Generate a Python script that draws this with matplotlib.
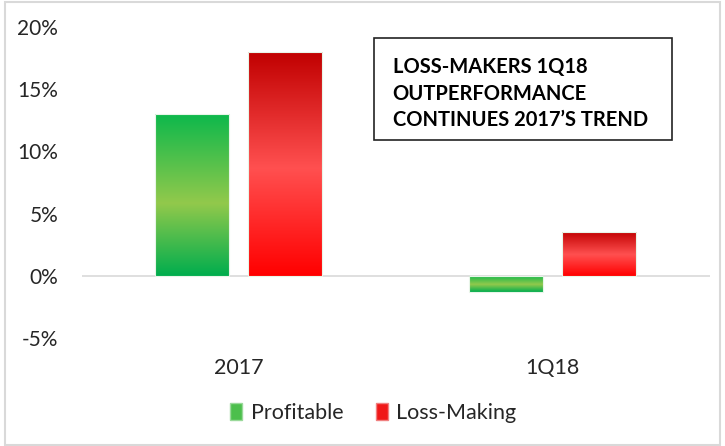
import numpy as np
import matplotlib
matplotlib.use("Agg")
import matplotlib.pyplot as plt
from matplotlib.colors import LinearSegmentedColormap
from matplotlib.patches import Patch, Rectangle

categories = ["2017", "1Q18"]
profitable = [13.0, -1.3]
loss_making = [18.0, 3.55]
series_names = ["Profitable", "Loss-Making"]
yticks = [-5, 0, 5, 10, 15, 20]
box_text = "LOSS-MAKERS 1Q18\nOUTPERFORMANCE\nCONTINUES 2017\u2019S TREND"

plt.rcParams["font.family"] = ["Lato", "DejaVu Sans"]

green = LinearSegmentedColormap.from_list(
    "g", [(0, "#0db84c"), (0.55, "#92c94b"), (1, "#00ad4e")])
red = LinearSegmentedColormap.from_list(
    "r", [(0, "#c00000"), (0.52, "#ff5050"), (1, "#ff0000")])

fig = plt.figure(figsize=(7.25, 4.46), dpi=100)
ax = fig.add_axes([0.113, 0.242, 0.866, 0.698])

x = np.arange(len(categories))
w = 0.236
off = 0.148

def grad_bars(xs, vals, cmap):
    bars = ax.bar(xs, vals, w, color="none", edgecolor="#e8f5e8", lw=0.8, zorder=3)
    grad = np.linspace(0, 1, 256).reshape(-1, 1)
    for b in bars:
        x0, y0 = b.get_x(), b.get_y()
        bw, bh = b.get_width(), b.get_height()
        lo, hi = min(y0, y0 + bh), max(y0, y0 + bh)
        im = ax.imshow(grad, cmap=cmap, aspect="auto", origin="upper",
                       extent=[x0, x0 + bw, lo, hi], zorder=2)
        im.set_clip_path(Rectangle((x0, lo), bw, hi - lo, transform=ax.transData))
    return bars

grad_bars(x - off, profitable, green)
grad_bars(x + off, loss_making, red)

ax.set_xlim(-0.5, 1.5)
ax.set_ylim(-5, 20)
ax.axhline(0, color="#d9d9d9", lw=1.2, zorder=1)
ax.set_yticks(yticks)
ax.set_yticklabels([f"{t}%" for t in yticks], fontsize=15, color="#262626")
ax.set_xticks([])
for i, c in enumerate(categories):
    ax.text(i, -7.4, c, ha="center", va="center", fontsize=15.5, color="#262626")
ax.tick_params(axis="y", length=0, pad=17)
for s in ax.spines.values():
    s.set_visible(False)

ax.text(0.495, 0.785, box_text, transform=ax.transAxes, ha="left", va="center",
        fontsize=14.5, fontweight="bold", color="black", linespacing=1.4)
fig.patches.append(Rectangle((374 / 725, 1 - 140 / 446), 298 / 725, 102 / 446,
                             transform=fig.transFigure, fill=False,
                             edgecolor="#222222", lw=1.2))

handles = [Patch(facecolor="#4cbf4c", edgecolor="#9ad99a"),
           Patch(facecolor="#f01818", edgecolor="#f08080")]
fig.legend(handles, series_names, loc="center", bbox_to_anchor=(0.515, 1 - 413 / 446),
           ncol=2, frameon=False, fontsize=15.5, handlelength=0.55, handleheight=0.8,
           columnspacing=1.5, handletextpad=0.4, labelcolor="#262626")

fig.patches.append(Rectangle((5 / 725, 1 / 446), 715 / 725, 443 / 446,
                             transform=fig.transFigure, fill=False,
                             edgecolor="#d9d9d9", lw=1.5))

fig.savefig("out.png", dpi=100)
